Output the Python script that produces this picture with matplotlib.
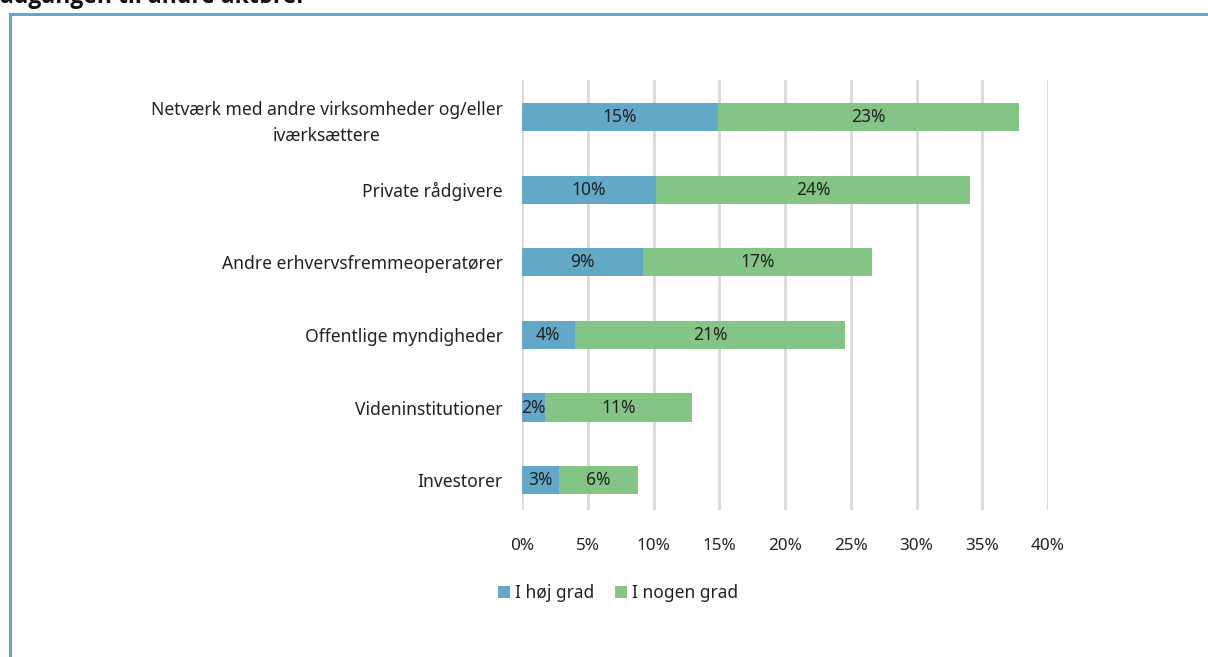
import matplotlib.pyplot as plt
from matplotlib.patches import Rectangle
import numpy as np

plt.rcParams['font.family'] = ['Noto Sans', 'DejaVu Sans']

categories = ["Netværk med andre virksomheder og/eller\niværksættere",
              "Private rådgivere",
              "Andre erhvervsfremmeoperatører",
              "Offentlige myndigheder",
              "Videninstitutioner",
              "Investorer"]
hoej = [14.9, 10.2, 9.2, 4.0, 1.75, 2.8]
nogen = [22.9, 23.9, 17.4, 20.6, 11.2, 6.0]
hoej_lbl = ["15%", "10%", "9%", "4%", "2%", "3%"]
nogen_lbl = ["23%", "24%", "17%", "21%", "11%", "6%"]
ticks = [0, 5, 10, 15, 20, 25, 30, 35, 40]

blue = "#64a8c8"
green = "#84c485"

fig = plt.figure(figsize=(12.08, 6.57), dpi=100)
ax = fig.add_axes([522/1208, 1-510/657, 526/1208, 430/657])

y = np.arange(len(categories))
h = 0.39
b1 = ax.barh(y, hoej, height=h, color=blue, label="I høj grad", zorder=3)
b2 = ax.barh(y, nogen, left=hoej, height=h, color=green, label="I nogen grad", zorder=3)

for i in range(len(categories)):
    ax.text(hoej[i]/2, y[i], hoej_lbl[i], ha='center', va='center', fontsize=12.5, color='#222222', zorder=4)
    ax.text(hoej[i] + nogen[i]/2, y[i], nogen_lbl[i], ha='center', va='center', fontsize=12.5, color='#222222', zorder=4)

ax.set_xlim(0, 40)
ax.set_ylim(5.41, -0.51)
ax.set_xticks(ticks)
ax.set_xticklabels([f"{t}%" for t in ticks], fontsize=12.3, color='#222222')
ax.set_yticks(y)
ax.set_yticklabels(categories, fontsize=12.6, color='#222222')
for lbl in ax.get_yticklabels():
    lbl.set_multialignment('center')
    lbl.set_linespacing(1.55)
ax.tick_params(axis='both', length=0)
ax.tick_params(axis='x', pad=20)
ax.tick_params(axis='y', pad=14)
ax.grid(axis='x', color='#d9d9d9', linewidth=2, zorder=0)
for s in ax.spines.values():
    s.set_visible(False)

fig.legend(handles=[b1, b2], loc='center left', bbox_to_anchor=(482/1208, 1-593/657),
           ncol=2, frameon=False, fontsize=12.5, handlelength=0.7, handleheight=0.7,
           handletextpad=0.3, columnspacing=1.2, labelcolor='#222222')

# border box and cut-off heading
fig.patches.append(Rectangle((10/1208, -0.1), 1.2, 1-14/657+0.1, transform=fig.transFigure,
                             fill=False, edgecolor='#5ea9d1', linewidth=2.2))
fig.text(0.0, 1-3/657, "adgangen til andre aktører", fontsize=16.5, fontweight='bold',
         family=['Open Sans', 'DejaVu Sans'], ha='left', va='baseline', color='#111111')

fig.savefig("out.png", dpi=100)
